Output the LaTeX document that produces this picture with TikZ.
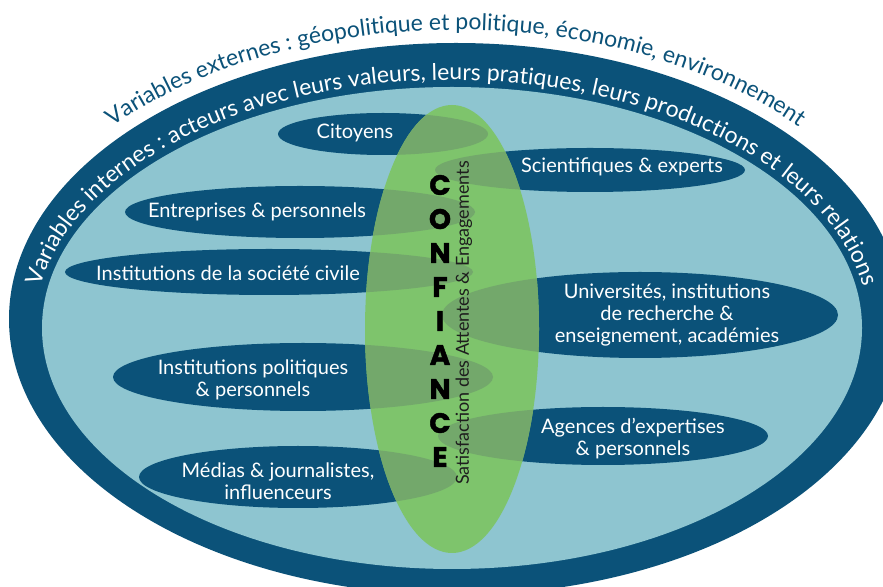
\documentclass[tikz,border=0pt]{standalone}
\usepackage{fontspec}
\setmainfont{Lato}
\newfontfamily\heavyfont[BoldFeatures={FakeBold=1.5}]{Poppins}
\usetikzlibrary{decorations.text}
\definecolor{dblue}{HTML}{0B5279}
\definecolor{lblue}{HTML}{8EC5D0}
\definecolor{cgreen}{HTML}{7EC46C}
\definecolor{olive}{HTML}{73A86B}
\definecolor{tdark}{HTML}{1E1E1E}
\begin{document}
\begin{tikzpicture}[x=1pt,y=1pt,
  lbl/.style={text=white, font=\fontsize{20}{22}\selectfont, align=center, inner sep=0pt},
  letter/.style={font=\heavyfont\bfseries\fontsize{28}{28}\selectfont, text=black, inner sep=0pt}]
\useasboundingbox (0,0) rectangle (883,586);
\begin{scope}
  \clip (0,0) rectangle (883,586);
  \fill[white] (0,0) rectangle (883,586);
  \fill[dblue] (456,267) ellipse [x radius=447, y radius=276];
  \fill[lblue] (452,258) ellipse [x radius=410, y radius=241];
\end{scope}
% actor ellipses
\def\actors{383/452/105/21, 590/416/155/22, 300/374/175/26, 269/314/204/23,
  640/271/198/43, 303/209/190/34, 603/150/165/29, 298/109/159/31}
\foreach \x/\y/\a/\b in \actors {\fill[dblue] (\x,\y) ellipse [x radius=\a, y radius=\b];}
% trust ellipse
\fill[cgreen] (452,257) ellipse [x radius=87, y radius=224];
\begin{scope}
  \clip (452,257) ellipse [x radius=87, y radius=224];
  \foreach \x/\y/\a/\b in \actors {\fill[olive] (\x,\y) ellipse [x radius=\a, y radius=\b];}
\end{scope}
% arc texts
\path[decorate, decoration={text along path, text align=center,
  text={|\color{dblue}\fontsize{23}{23}\selectfont|Variables externes : géopolitique et politique, économie, environnement}}]
  (456,267) ++(155:460 and 289) arc[start angle=155, end angle=25, x radius=460, y radius=289];
\path[decorate, decoration={text along path, text align=center,
  text={|\color{white}\fontsize{23}{23}\selectfont|Variables internes : acteurs avec leurs valeurs, leurs pratiques, leurs productions et leurs relations}}]
  (452,258) ++(185:417 and 248) arc[start angle=185, end angle=-5, x radius=417, y radius=248];
% labels
\node[lbl] (cit) at (355,453) {Citoyens};
\node[lbl] (sci) at (622,419) {Scientifiques \& experts};
\node[lbl] (ent) at (257,374) {Entreprises \& personnels};
\node[lbl] (soc) at (228,313) {Institutions de la société civile};
\node[lbl] (uni) at (667,271) {Universités, institutions\\de recherche \&\\enseignement, académies};
\node[lbl] (pol) at (253,206) {Institutions politiques\\\& personnels};
\node[lbl] (age) at (633,147.5) {Agences d’expertises\\\& personnels};
\node[lbl] (med) at (278,105) {Médias \& journalistes,\\influenceurs};
% CONFIANCE
\foreach \l [count=\i from 0] in {C,O,N,F,I,A,N,C,E}
  \node[letter] (conf\i) at (440,401-34*\i) {\l};
\node[rotate=90, text=tdark, font=\fontsize{18}{18}\selectfont, inner sep=0pt] (sat) at (464,263) {Satisfaction des Attentes \& Engagements};
\end{tikzpicture}
\end{document}
